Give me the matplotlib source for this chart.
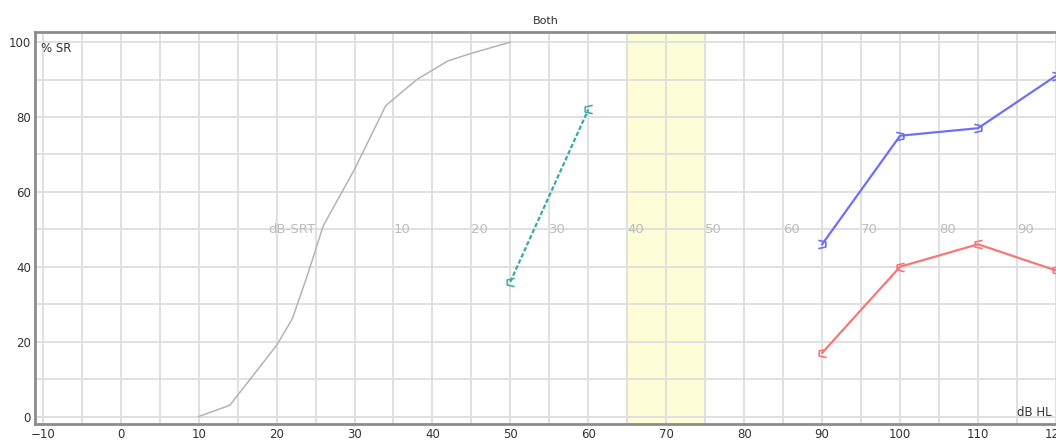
import numpy as np
import matplotlib.pyplot as plt
from matplotlib.path import Path

# normative curve (gray)
norm_db = [10, 14, 20, 22, 24, 26, 30, 34, 38, 42, 45, 50]
norm_sr = [0, 3, 19, 26, 38, 51, 66, 83, 90, 95, 97, 100]

# teal dashed
teal_db = [50, 60]
teal_sr = [36, 82]

# blue (right)
blue_db = [90, 100, 110, 120]
blue_sr = [46, 75, 77, 91]

# red (left)
red_db = [90, 100, 110, 120]
red_sr = [17, 40, 46, 39]

# masked band
band = (65, 75)

srt_ref = 25
srt_labels = [10, 20, 30, 40, 50, 60, 70, 80, 90]

x_ticks = list(range(-10, 121, 10))
y_ticks = [0, 20, 40, 60, 80, 100]

close_right = Path([(-1, 1), (0.8, 0.6), (0.8, -0.6), (-1, -1)],
                   [Path.MOVETO, Path.LINETO, Path.LINETO, Path.LINETO])
close_left = Path([(1, 1), (-0.8, 0.6), (-0.8, -0.6), (1, -1)],
                  [Path.MOVETO, Path.LINETO, Path.LINETO, Path.LINETO])

fig = plt.figure(figsize=(10.56, 4.43), dpi=100)
ax = fig.add_axes([0.0331, 0.0429, 0.9669, 0.8849])

ax.set_xlim(-11, 120)
ax.set_ylim(-2, 102.7)

ax.set_xticks(x_ticks)
ax.set_xticks(np.arange(-5, 121, 10), minor=True)
ax.set_yticks(y_ticks)
ax.set_yticks(np.arange(10, 101, 20), minor=True)
ax.grid(True, which='both', color='#e0e0e0', lw=1.4, zorder=0)
ax.set_axisbelow(True)
ax.tick_params(which='both', length=0, labelsize=8.5, labelcolor='#333333', pad=3)

for s in ['left', 'bottom', 'top']:
    ax.spines[s].set_color('#8c8c8c')
    ax.spines[s].set_linewidth(2)
ax.spines['right'].set_visible(False)

ax.axvspan(band[0], band[1], color='#fdfdd8', zorder=0.5)

ax.plot(norm_db, norm_sr, color='#b4b4b4', lw=1.1, zorder=2)
ax.plot(teal_db, teal_sr, color='#3aa8a8', lw=1.6, ls=(0, (2, 1)),
        marker=close_left, ms=6, mfc='none', mew=1.1, zorder=3)
ax.plot(blue_db, blue_sr, color='#6f6ff5', lw=1.6,
        marker=close_right, ms=6, mfc='none', mew=1.2, zorder=3, clip_on=False)
ax.plot(red_db, red_sr, color='#f57878', lw=1.6,
        marker=close_left, ms=6, mfc='none', mew=1.2, zorder=3, clip_on=False)

# SRT scale labels
ax.text(srt_ref, 50, 'dB-SRT', ha='right', va='center', fontsize=9.5, color='#bdbdbd')
for v in srt_labels:
    ax.text(srt_ref + v, 50, str(v), ha='left', va='center', fontsize=9.5, color='#bdbdbd')

ax.text(0.006, 0.975, '% SR', transform=ax.transAxes, ha='left', va='top',
        fontsize=8.5, color='#333333')
ax.text(0.962, 0.012, 'dB HL', transform=ax.transAxes, ha='left', va='bottom',
        fontsize=8.5, color='#333333')
ax.set_title('Both', fontsize=8, color='#333333', pad=6)

fig.savefig('out.png', dpi=100)
